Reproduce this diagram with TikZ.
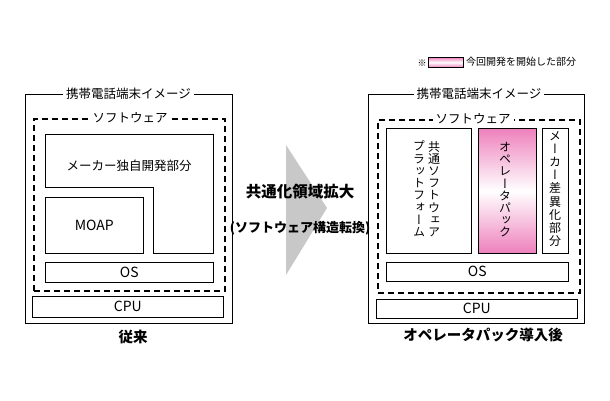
\documentclass[tikz,border=0pt]{standalone}
\usepackage{fontspec}
\setmainfont{Noto Sans CJK JP}
\newfontfamily\tate[RawFeature=+vert]{Noto Sans CJK JP}
\definecolor{packpink}{RGB}{238,128,188}
\definecolor{arrowgray}{RGB}{200,200,200}

\begin{document}
\begin{tikzpicture}[x=1pt,y=-1pt,
  boxline/.style={draw,line width=0.7pt,anchor=north west,inner sep=0pt},
  swline/.style={draw,line width=2.2pt,dash pattern=on 6pt off 4pt,anchor=north west,inner sep=0pt},
  heading/.style={fill=white,inner sep=3pt,font=\fontsize{12.5}{13}\selectfont},
  boxtext/.style={font=\fontsize{12.5}{13}\selectfont},
  latintext/.style={font=\fontsize{14}{15}\selectfont},
  tatetext/.style={font=\fontsize{12}{12.2}\tate,align=center,inner sep=0pt,anchor=north},
  caption/.style={font=\fontsize{14.5}{15}\bfseries}]
  \useasboundingbox (0,0) rectangle (610,400);

  % left: before
  \node[boxline,minimum width=207pt,minimum height=229pt] (phoneL) at (25,94) {};
  \node[heading] (phoneLt) at (128.5,94) {携帯電話端末イメージ};
  \node[swline,minimum width=191pt,minimum height=172pt] (swL) at (33,118) {};
  \node[heading] (swLt) at (130,118) {ソフトウェア};
  \draw[line width=0.7pt] (45,134) -- (213,134) -- (213,253) -- (153,253)
    -- (153,187) -- (45,187) -- cycle;
  \node[boxtext] (makerL) at (129,166) {メーカー独自開発部分};
  \node[boxline,minimum width=98pt,minimum height=56pt] (moap) at (45,197) {};
  \node[latintext] at (moap.center) {MOAP};
  \node[boxline,minimum width=168pt,minimum height=20pt] (osL) at (45,262) {};
  \node[latintext] at (osL.center) {OS};
  \node[boxline,minimum width=191pt,minimum height=21pt] (cpuL) at (32,296) {};
  \node[latintext] at (cpuL.center) {CPU};
  \node[caption] (before) at (133,337) {従来};

  % middle arrow
  \fill[arrowgray] (286,145) -- (327,208) -- (286,275) -- cycle;
  \node[font=\fontsize{15.5}{16}\bfseries] (expand) at (300,192) {共通化領域拡大};
  \node[font=\fontsize{13}{14}\bfseries] (shift) at (300,228) {(ソフトウェア構造転換)};

  % legend
  \node[font=\fontsize{9}{10}\selectfont] (mark) at (422,63) {※};
  \node[boxline,minimum width=35pt,minimum height=10pt,top color=packpink,
    bottom color=packpink,middle color=white] (legbox) at (428,57) {};
  \node[anchor=west,inner sep=0pt,font=\fontsize{10}{11}\selectfont] (legtext)
    at (466,62) {今回開発を開始した部分};

  % right: after
  \node[boxline,minimum width=216pt,minimum height=229pt] (phoneR) at (368,94) {};
  \node[heading] (phoneRt) at (479,94) {携帯電話端末イメージ};
  \node[swline,minimum width=202pt,minimum height=173pt] (swR) at (377,119) {};
  \node[heading] (swRt) at (473,119) {ソフトウェア};
  \node[boxline,minimum width=85pt,minimum height=125pt] (platform) at (386,128) {};
  \node[tatetext] at (434,141) {共\\通\\ソ\\フ\\ト\\ウ\\ェ\\ア};
  \node[tatetext] at (419,141) {プ\\ラ\\ッ\\ト\\フ\\ォ\\ー\\ム};
  \node[boxline,minimum width=58pt,minimum height=125pt,top color=packpink,
    bottom color=packpink,middle color=white] (pack) at (478,128) {};
  \node[tatetext] at (505,142) {オ\\ペ\\レ\\ー\\タ\\パ\\ッ\\ク};
  \node[boxline,minimum width=26pt,minimum height=125pt] (makerR) at (542,128) {};
  \node[tatetext,font=\fontsize{12}{13.2}\tate] at (555,131) {メ\\ー\\カ\\ー\\差\\異\\化\\部\\分};
  \node[boxline,minimum width=182pt,minimum height=19pt] (osR) at (386,262) {};
  \node[latintext] at (osR.center) {OS};
  \node[boxline,minimum width=201pt,minimum height=19pt] (cpuR) at (376,299) {};
  \node[latintext] at (cpuR.center) {CPU};
  \node[caption] (after) at (483,335) {オペレータパック導入後};
\end{tikzpicture}
\end{document}
